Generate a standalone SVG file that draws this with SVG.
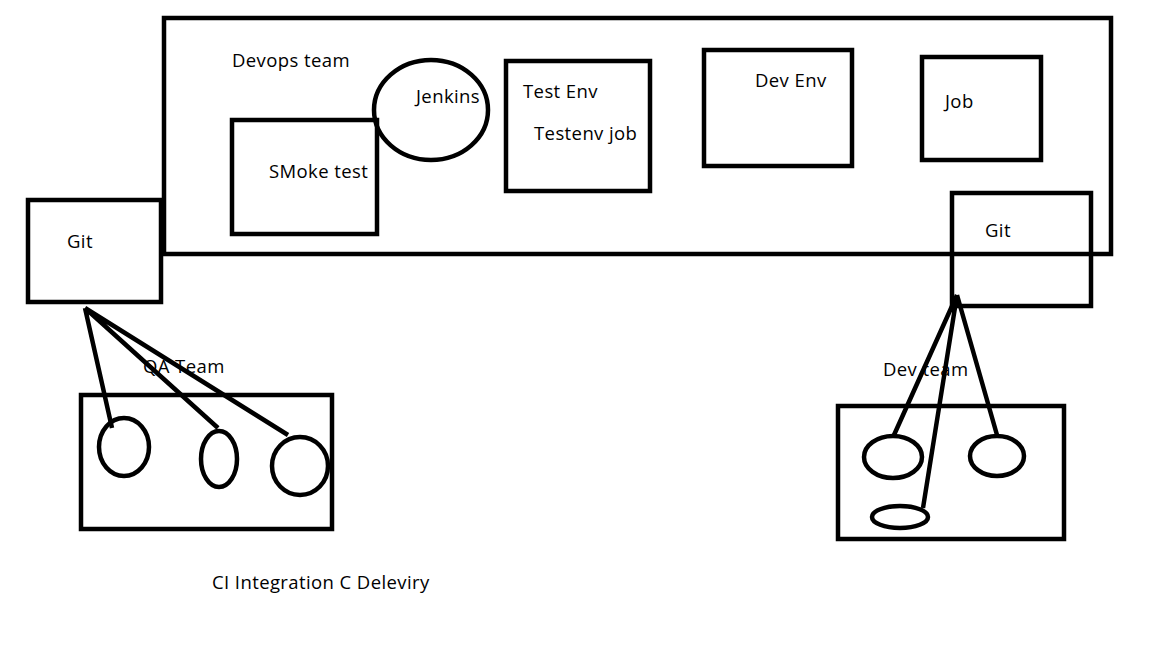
<svg xmlns="http://www.w3.org/2000/svg" width="1152" height="648" viewBox="0 0 1152 648">
<style>
.s{fill:none;stroke:#000;stroke-width:4.5}
.t{font-family:"Open Sans","Noto Sans",sans-serif;font-size:18.5px;letter-spacing:0.4px;fill:#000}
</style>
<rect width="1152" height="648" fill="#fff"/>
<g id="devops">
<rect class="s" x="164" y="18" width="947" height="236"/>
<text class="t" x="232" y="67">Devops team</text>
</g>
<g id="smoke">
<rect class="s" x="232" y="120" width="145" height="114"/>
<text class="t" x="269" y="178">SMoke test</text>
</g>
<g id="jenkins">
<ellipse class="s" cx="431" cy="110" rx="57" ry="50"/>
<text class="t" x="416" y="103">Jenkins</text>
</g>
<g id="testenv">
<rect class="s" x="506" y="61" width="144" height="130"/>
<text class="t" x="523" y="98">Test Env</text>
<text class="t" x="534" y="140">Testenv job</text>
</g>
<g id="devenv">
<rect class="s" x="704" y="50" width="148" height="116"/>
<text class="t" x="755" y="87">Dev Env</text>
</g>
<g id="job">
<rect class="s" x="922" y="57" width="119" height="103"/>
<text class="t" x="945" y="108">Job</text>
</g>
<g id="git-left">
<rect class="s" x="28" y="200" width="133" height="102"/>
<text class="t" x="67" y="248">Git</text>
</g>
<g id="git-right">
<rect class="s" x="952" y="193" width="139" height="113"/>
<text class="t" x="985" y="237">Git</text>
</g>
<g id="qa-team">
<text class="t" x="143" y="373">QA Team</text>
<rect class="s" x="81" y="395" width="251" height="134"/>
<ellipse class="s" cx="124" cy="447" rx="25" ry="29"/>
<ellipse class="s" cx="219" cy="459" rx="18" ry="28"/>
<ellipse class="s" cx="300" cy="466" rx="28" ry="29"/>
</g>
<g id="dev-team">
<text class="t" x="883" y="376">Dev team</text>
<rect class="s" x="838" y="406" width="226" height="133"/>
<ellipse class="s" cx="893" cy="457" rx="29" ry="21"/>
<ellipse class="s" cx="997" cy="456" rx="27" ry="20"/>
<ellipse class="s" cx="900" cy="517" rx="28" ry="11"/>
</g>
<g id="connectors">
<path class="s" d="M85 308 L112 428 M85 308 L218 428 M85 308 L288 435"/>
<path class="s" d="M957 295 L894 435 M957 295 L923 508 M957 295 L997 435"/>
</g>
<text class="t" x="212" y="589">CI Integration C Deleviry</text>
</svg>
